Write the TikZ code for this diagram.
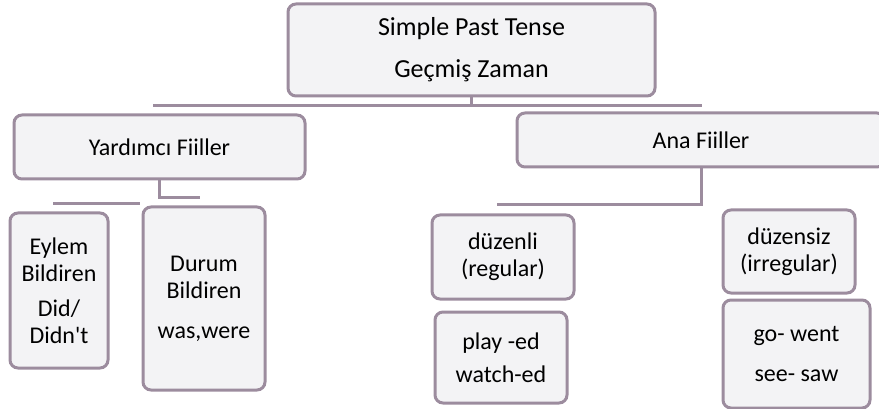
\documentclass[tikz,border=0pt]{standalone}
\usepackage{fontspec}
\setmainfont{Carlito}[Ligatures=TeXOff]
\definecolor{boxline}{RGB}{156,140,158}
\definecolor{boxfill}{RGB}{243,243,245}
\tikzset{
  box/.style={draw=boxline, fill=boxfill, line width=3pt, rounded corners=8pt,
    align=center, inner sep=0pt, font=\fontsize{24}{27}\selectfont},
  link/.style={draw=boxline, line width=3pt}
}
\begin{document}
\begin{tikzpicture}[x=1pt,y=-1pt]
\useasboundingbox (0,0) rectangle (879,409);
% top level
\node[box, minimum width=367pt, minimum height=92pt, font=\fontsize{26}{28}\selectfont] (tense) at (471.5,50) {Simple Past Tense\\[14pt]Geçmiş Zaman};
% second level
\node[box, minimum width=291pt, minimum height=64pt] (yard) at (159.5,147) {Yardımcı Fiiller};
\node[box, minimum width=368pt, minimum height=54pt] (ana) at (701,140) {Ana Fiiller};
% leaves
\node[box, minimum width=98pt, minimum height=155pt] (eylem) at (59,290.5) {Eylem\\Bildiren\\[8pt]Did/\\Didn't};
\node[box, minimum width=122pt, minimum height=183pt] (durum) at (204,298.5) {Durum\\Bildiren\\[13pt]was,were};
\node[box, minimum width=142pt, minimum height=84pt] (duzenli) at (503,257) {düzenli\\(regular)};
\node[box, minimum width=132pt, minimum height=91pt] (play) at (501,357.5) {play -ed\\[6pt]watch-ed};
\node[box, minimum width=132pt, minimum height=83pt] (duzensiz) at (789,251.5) {düzensiz\\(irregular)};
\node[box, minimum width=147pt, minimum height=108pt] (go) at (796.5,354) {go- went\\[13pt]see- saw};
% connectors
\coordinate (hl) at (153,106);
\coordinate (hr) at (702,106);
\draw[link] (tense.south) |- (hl);
\draw[link] (hl) -- (hr);
\coordinate (ya) at (200,198);
\draw[link] (yard.south) |- (ya);
\coordinate (yb1) at (53,204);
\coordinate (yb2) at (140,204);
\draw[link] (yb1) -- (yb2);
\coordinate (aa) at (497,205);
\draw[link] (ana.south) |- (aa);
\end{tikzpicture}
\end{document}
